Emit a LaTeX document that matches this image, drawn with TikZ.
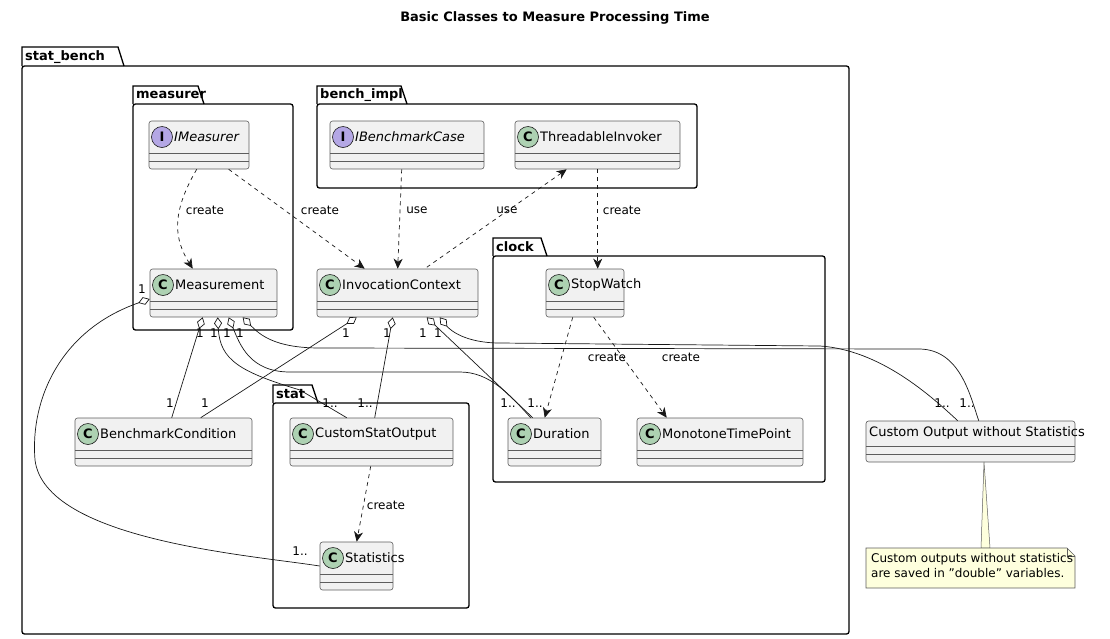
\documentclass[tikz,border=0pt]{standalone}
\usepackage{fontspec}
\setmainfont{DejaVu Sans}
\usetikzlibrary{arrows.meta,calc}
\definecolor{boxfill}{HTML}{F1F1F1}
\definecolor{boxline}{HTML}{181818}
\definecolor{cfill}{HTML}{ADD1B2}
\definecolor{ifill}{HTML}{B4A7E5}
\definecolor{notefill}{HTML}{FEFFDD}
\tikzset{
  clsbox/.style={draw=boxline!70, line width=0.6pt, fill=boxfill, rounded corners=2.5pt, inner sep=0pt},
  pkg/.style={draw=black, line width=1.3pt},
  pkglabel/.style={font=\fontsize{13}{15}\selectfont\bfseries, anchor=west, inner sep=0pt},
  dep/.style={draw=boxline, line width=0.7pt, dash pattern=on 4pt off 4pt, -{Stealth[length=10pt,width=9pt,inset=3pt]}},
  depr/.style={draw=boxline, line width=0.7pt, dash pattern=on 4pt off 4pt, {Stealth[length=10pt,width=9pt,inset=3pt]}-},
  agg/.style={draw=boxline, line width=0.7pt, {Diamond[open,length=12pt,width=8pt,fill=white]}-},
  lbl/.style={font=\fontsize{12}{14}\selectfont, inner sep=0pt},
  mult/.style={font=\fontsize{12}{14}\selectfont, inner sep=0pt},
}
\newcommand\umlclass[8]{%
  \node[clsbox, minimum width={(#4-#2)*1pt}, minimum height={(#5-#3)*1pt}] (#1) at ({(#2+#4)/2},{(#3+#5)/2}) {};
  \draw[boxline!70, line width=0.6pt] (#2,#3+32) -- (#4,#3+32) (#2,#3+40) -- (#4,#3+40);
  \node[circle, draw=boxline, line width=0.6pt, fill=#7, minimum size=21pt, inner sep=0pt, font=\fontsize{13}{15}\selectfont\bfseries] at (#2+13,#3+16) {#6};
  \node[anchor=west, inner sep=0pt, font=\fontsize{13}{15}\selectfont] at (#2+25,#3+16) {#8};
}
\begin{document}
\begin{tikzpicture}[x=1pt,y=-1pt]
\useasboundingbox (0,0) rectangle (1110,638);
\node[font=\fontsize{13}{15}\selectfont\bfseries] (title) at (555,18) {Basic Classes to Measure Processing Time};

% packages
\draw[pkg] (22,66) -- (22,47) -- (118,47) -- (124,66);
\draw[pkg, rounded corners=2.5pt] (22,66) rectangle (849,634);
\node[pkglabel] (pstatbench) at (25,57) {stat\_bench};
\draw[pkg] (133,104) -- (133,86) -- (198,86) -- (204,104);
\draw[pkg, rounded corners=2.5pt] (133,104) rectangle (293,330);
\node[pkglabel] (pmeasurer) at (136,95) {measurer};
\draw[pkg] (317,104) -- (317,86) -- (401,86) -- (407,104);
\draw[pkg, rounded corners=2.5pt] (317,104) rectangle (697,188);
\node[pkglabel] (pbench) at (320,95) {bench\_impl};
\draw[pkg] (493,256) -- (493,238) -- (541,238) -- (547,256);
\draw[pkg, rounded corners=2.5pt] (493,256) rectangle (825,482);
\node[pkglabel] (pclock) at (496,247) {clock};
\draw[pkg] (273,403) -- (273,385) -- (312,385) -- (318,403);
\draw[pkg, rounded corners=2.5pt] (273,403) rectangle (469,608);
\node[pkglabel] (pstat) at (276,394) {stat};

% classes
\umlclass{IMeasurer}{149}{121}{249}{169}{I}{ifill}{\itshape IMeasurer}
\umlclass{IBenchmarkCase}{330}{121}{484}{169}{I}{ifill}{\itshape IBenchmarkCase}
\umlclass{ThreadableInvoker}{515}{121}{680}{169}{C}{cfill}{ThreadableInvoker}
\umlclass{Measurement}{150}{269}{277}{317}{C}{cfill}{Measurement}
\umlclass{InvocationContext}{317}{269}{478}{317}{C}{cfill}{InvocationContext}
\umlclass{StopWatch}{546}{269}{624}{317}{C}{cfill}{StopWatch}
\umlclass{BenchmarkCondition}{75}{418}{252}{466}{C}{cfill}{BenchmarkCondition}
\umlclass{CustomStatOutput}{290}{418}{453}{466}{C}{cfill}{CustomStatOutput}
\umlclass{Duration}{508}{418}{601}{466}{C}{cfill}{Duration}
\umlclass{MonotoneTimePoint}{637}{418}{803}{466}{C}{cfill}{MonotoneTimePoint}
\umlclass{Statistics}{320}{542}{393}{590}{C}{cfill}{Statistics}
\node[clsbox, minimum width=209pt, minimum height=41pt] (CustomOut) at (970.5,441.5) {};
\draw[boxline!70, line width=0.6pt] (866,446) -- (1075,446) (866,454) -- (1075,454);
\node[anchor=west, inner sep=0pt, font=\fontsize{13}{15}\selectfont] (CustomOutText) at (869,433) {Custom Output without Statistics};

% note
\draw[boxline!70, fill=notefill, line width=0.5pt] (984,462) -- (981,548) -- (990,548) -- cycle;
\draw[boxline!70, fill=notefill, line width=0.6pt] (866,548) -- (1067,548) -- (1075,556) -- (1075,588) -- (866,588) -- cycle;
\draw[boxline!70, line width=0.6pt] (1067,548) -- (1067,556) -- (1075,556);
\node[anchor=north west, align=left, inner sep=0pt, font=\fontsize{12}{15.5}\selectfont] (note) at (871,553) {Custom outputs without statistics\\are saved in \char34 double\char34\ variables.};

% dependencies
\draw[dep] ([xshift=48pt]IMeasurer.south west) .. controls (170,215) and (175,240) .. ([xshift=43pt]Measurement.north west);
\node[lbl] (l1) at (205,210) {create};
\draw[dep] ([xshift=80pt]IMeasurer.south west) -- ([xshift=48pt]InvocationContext.north west);
\node[lbl] (l2) at (320,210) {create};
\draw[dep] ([xshift=72pt]IBenchmarkCase.south west) -- ([xshift=81pt]InvocationContext.north west);
\node[lbl] (l3) at (417,210) {use};
\draw[depr] ([xshift=52pt]ThreadableInvoker.south west) -- ([xshift=108pt]InvocationContext.north west);
\node[lbl] (l4) at (507,210) {use};
\draw[dep] ([xshift=83pt]ThreadableInvoker.south west) -- ([xshift=52pt]StopWatch.north west);
\node[lbl] (l5) at (622,210) {create};
\draw[dep] ([xshift=27pt]StopWatch.south west) -- ([xshift=37pt]Duration.north west);
\node[lbl] (l6) at (607,357) {create};
\draw[dep] ([xshift=48pt]StopWatch.south west) -- ([xshift=30pt]MonotoneTimePoint.north west);
\node[lbl] (l7) at (681,357) {create};
\draw[dep] ([xshift=81pt]CustomStatOutput.south west) -- ([xshift=37pt]Statistics.north west);
\node[lbl] (l8) at (386,505) {create};

% aggregations from Measurement
\draw[agg] ([yshift=-6pt]Measurement.west) .. controls (60,330) and (30,400) .. (35,460) .. controls (45,540) and (250,555) .. (Statistics.west);
\node[mult] (m0) at (142,289) {1};
\node[mult] (m0b) at (300,551) {1..};
\draw[agg] ([xshift=53pt]Measurement.south west) -- ([xshift=97pt]BenchmarkCondition.north west);
\draw[agg] ([xshift=68pt]Measurement.south west) .. controls (220,360) and (240,372) .. (300,390) -- ([xshift=57pt]CustomStatOutput.north west);
\draw[agg] ([xshift=79pt]Measurement.south west) .. controls (240,345) and (250,372) .. (290,372) -- (460,372) .. controls (490,372) and (510,395) .. ([xshift=23pt]Duration.north west);
\draw[agg] ([xshift=93pt]Measurement.south west) .. controls (260,335) and (275,348) .. (320,348) -- (920,349) .. controls (960,350) and (970,395) .. ([xshift=113pt]CustomOut.north west);
\node[mult] (m1) at (200,333) {1};
\node[mult] (m2) at (214,333) {1};
\node[mult] (m3) at (227,333) {1};
\node[mult] (m4) at (240,333) {1};
\node[mult] (m1b) at (170,403) {1};
\node[mult] (m2b) at (330,403) {1..};
\node[mult] (m3b) at (508,403) {1..};
\node[mult] (m4b) at (967,403) {1..};

% aggregations from InvocationContext
\draw[agg] ([xshift=40pt]InvocationContext.south west) -- ([xshift=126pt]BenchmarkCondition.north west);
\draw[agg] ([xshift=76pt]InvocationContext.south west) -- ([xshift=85pt]CustomStatOutput.north west);
\draw[agg] ([xshift=110pt]InvocationContext.south west) -- ([xshift=25pt]Duration.north west);
\draw[agg] ([xshift=123pt]InvocationContext.south west) .. controls (450,330) and (465,343) .. (500,343) -- (820,346) .. controls (880,350) and (930,395) .. ([xshift=92pt]CustomOut.north west);
\node[mult] (n1) at (346,333) {1};
\node[mult] (n2) at (387,333) {1};
\node[mult] (n3) at (423,333) {1};
\node[mult] (n4) at (438,333) {1};
\node[mult] (n1b) at (205,403) {1};
\node[mult] (n2b) at (365,403) {1..};
\node[mult] (n3b) at (535,403) {1..};
\node[mult] (n4b) at (942,403) {1..};
\end{tikzpicture}
\end{document}
